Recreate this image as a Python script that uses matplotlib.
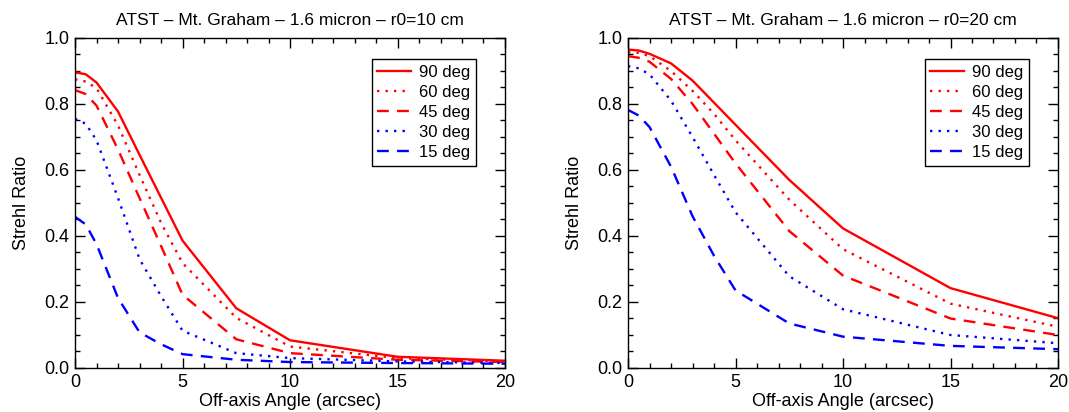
import matplotlib
matplotlib.use('Agg')
import matplotlib.pyplot as plt
from matplotlib.ticker import MultipleLocator

plt.rcParams['font.family'] = ['Liberation Sans', 'DejaVu Sans']

# off-axis angle sample points (arcsec)
angles = [0, 0.5, 1, 2, 3, 4, 5, 7.5, 10, 15, 20]

# r0 = 10 cm
r10_90 = [0.896, 0.89, 0.865, 0.777, 0.646, 0.516, 0.386, 0.181, 0.084, 0.034, 0.022]
r10_60 = [0.875, 0.868, 0.848, 0.735, 0.585, 0.44, 0.318, 0.152, 0.065, 0.03, 0.02]
r10_45 = [0.842, 0.83, 0.795, 0.662, 0.515, 0.37, 0.222, 0.087, 0.045, 0.025, 0.018]
r10_30 = [0.755, 0.74, 0.69, 0.515, 0.33, 0.218, 0.113, 0.045, 0.03, 0.02, 0.015]
r10_15 = [0.458, 0.435, 0.375, 0.212, 0.108, 0.072, 0.042, 0.025, 0.018, 0.015, 0.013]

# r0 = 20 cm
r20_90 = [0.965, 0.962, 0.952, 0.923, 0.871, 0.804, 0.737, 0.57, 0.423, 0.242, 0.151]
r20_60 = [0.957, 0.955, 0.945, 0.9, 0.84, 0.77, 0.69, 0.51, 0.36, 0.195, 0.125]
r20_45 = [0.945, 0.94, 0.928, 0.876, 0.8, 0.71, 0.62, 0.415, 0.28, 0.15, 0.10]
r20_30 = [0.915, 0.908, 0.89, 0.81, 0.70, 0.585, 0.472, 0.278, 0.178, 0.10, 0.075]
r20_15 = [0.782, 0.765, 0.73, 0.61, 0.46, 0.34, 0.235, 0.135, 0.095, 0.067, 0.057]

labels = ['90 deg', '60 deg', '45 deg', '30 deg', '15 deg']
colors = ['red', 'red', 'red', 'blue', 'blue']
dotted = (0, (1, 2.6))
dashed = (0, (5, 3.5))
styles = ['-', dotted, dashed, dotted, dashed]


def draw_panel(ax, series, title):
    for y, lab, c, ls in zip(series, labels, colors, styles):
        ax.plot(angles, y, color=c, linestyle=ls, linewidth=1.7, label=lab)
    ax.set_xlim(0, 20)
    ax.set_ylim(0, 1.0)
    ax.xaxis.set_major_locator(MultipleLocator(5))
    ax.xaxis.set_minor_locator(MultipleLocator(1))
    ax.yaxis.set_major_locator(MultipleLocator(0.2))
    ax.yaxis.set_minor_locator(MultipleLocator(0.05))
    ax.yaxis.set_major_formatter(plt.FormatStrFormatter('%.1f'))
    ax.tick_params(which='both', direction='in', top=True, right=True, width=1.0, labelsize=13)
    ax.tick_params(which='major', length=7.5, pad=4)
    ax.tick_params(which='minor', length=3.6)
    for s in ax.spines.values():
        s.set_linewidth(1.0)
    ax.set_title(title, fontsize=12.5, pad=9)
    ax.set_xlabel('Off-axis Angle (arcsec)', fontsize=13, labelpad=2)
    ax.set_ylabel('Strehl Ratio', fontsize=13, labelpad=10)
    leg = ax.legend(loc='upper right', bbox_to_anchor=(0.933, 0.936), borderaxespad=0,
                    fontsize=12, handlelength=2.0, handletextpad=0.5, labelspacing=0.3,
                    borderpad=0.35, fancybox=False, framealpha=1)
    leg.get_frame().set_edgecolor('black')
    leg.get_frame().set_linewidth(1.0)


fig = plt.figure(figsize=(10.69, 4.12), dpi=100)
ax1 = fig.add_axes([0.0702, 0.1068, 0.4022, 0.801])
ax2 = fig.add_axes([0.5875, 0.1068, 0.4022, 0.801])

draw_panel(ax1, [r10_90, r10_60, r10_45, r10_30, r10_15], 'ATST \u2013 Mt. Graham \u2013 1.6 micron \u2013 r0=10 cm')
draw_panel(ax2, [r20_90, r20_60, r20_45, r20_30, r20_15], 'ATST \u2013 Mt. Graham \u2013 1.6 micron \u2013 r0=20 cm')

fig.savefig('out.png', dpi=100)
